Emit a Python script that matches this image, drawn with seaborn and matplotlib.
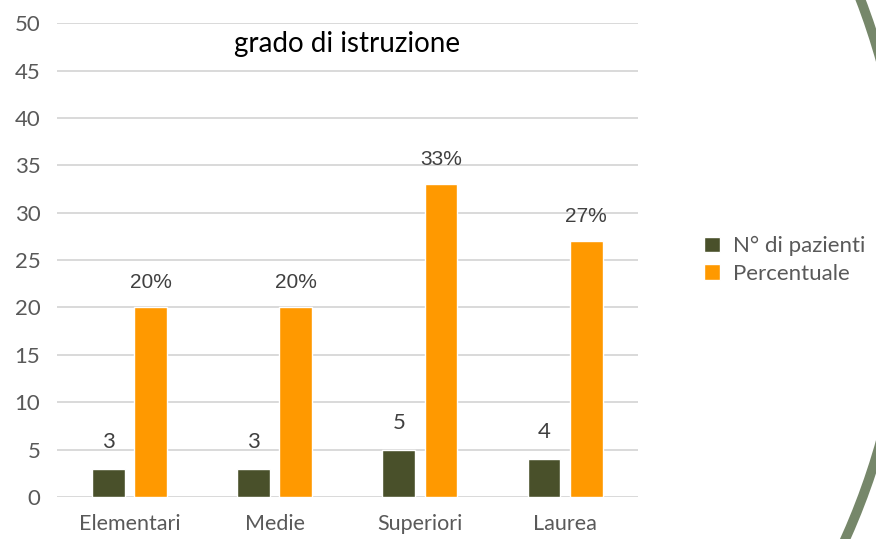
import pandas as pd
import seaborn as sns
import matplotlib.pyplot as plt
from matplotlib.patches import Ellipse

# data
categorie = ["Elementari", "Medie", "Superiori", "Laurea"]
n_pazienti = [3, 3, 5, 4]
percentuale = [20, 20, 33, 27]
etichette_perc = ["20%", "20%", "33%", "27%"]
serie = ["N° di pazienti", "Percentuale"]

df = pd.DataFrame({
    "categoria": categorie * 2,
    "valore": n_pazienti + percentuale,
    "serie": [serie[0]] * 4 + [serie[1]] * 4,
})

sns.set_style("white")
plt.rcParams["font.family"] = ["Lato", "DejaVu Sans"]

fig = plt.figure(figsize=(8.76, 5.39), dpi=100)
ax = fig.add_axes([0.065, 0.078, 0.663, 0.879])

sns.barplot(data=df, x="categoria", y="valore", hue="serie",
            palette=["#49502A", "#FF9900"], width=0.58, gap=0.22,
            saturation=1, ax=ax)

ax.set_ylim(0, 50)
ax.set_xlim(-0.5, 3.5)
ax.set_yticks(range(0, 51, 5))
ax.grid(axis="y", color="#D9D9D9", linewidth=1.4)
ax.set_axisbelow(True)
for s in ax.spines.values():
    s.set_visible(False)
ax.tick_params(length=0, labelsize=15.5, colors="#595959")
ax.tick_params(axis="y", labelsize=16, pad=12)
ax.tick_params(axis="x", pad=12)
ax.set_xlabel("")
ax.set_ylabel("")

# value labels
ax.bar_label(ax.containers[0], labels=[str(v) for v in n_pazienti],
             padding=12, fontsize=16, color="#404040")
ax.bar_label(ax.containers[1], labels=etichette_perc, padding=11,
             fontsize=15, color="#404040", family="Liberation Sans")

ax.text(0.5, 0.955, "grado di istruzione", transform=ax.transAxes,
        ha="center", va="center", fontsize=20, color="black")

ax.legend(loc="center left", bbox_to_anchor=(1.08, 0.50), frameon=False,
          fontsize=16, labelcolor="#595959", handlelength=0.7,
          handleheight=0.7, handletextpad=0.6, labelspacing=0.35)

# decorative arc from the slide
arc = Ellipse((204 / 876, 1 - 251 / 539), 2 * 703 / 876, 2 * 703 / 539,
              transform=fig.transFigure, fill=False, edgecolor="#76876A",
              linewidth=7, clip_on=False)
fig.patches.append(arc)

plt.savefig("out.png", dpi=100)
